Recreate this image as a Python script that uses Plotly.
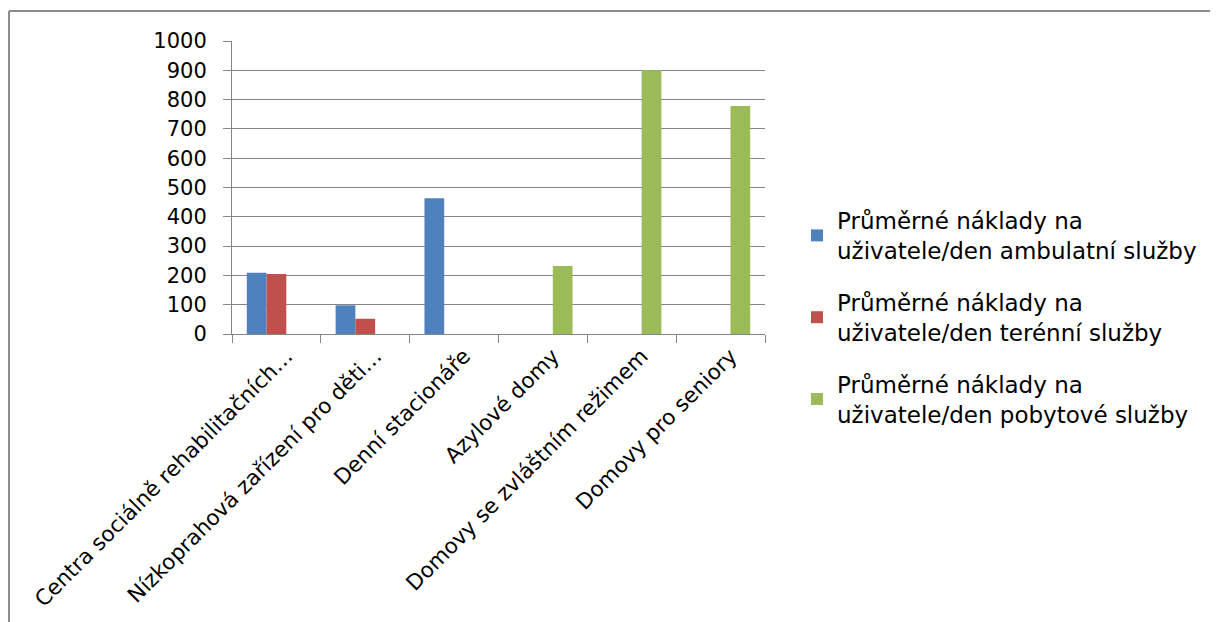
import plotly.graph_objects as go

categories = [
    "Centra sociálně rehabilitačních…",
    "Nízkoprahová zařízení pro děti…",
    "Denní stacionáře",
    "Azylové domy",
    "Domovy se zvláštním režimem",
    "Domovy pro seniory",
]
series_names = [
    "Průměrné náklady na<br>uživatele/den ambulatní služby",
    "Průměrné náklady na<br>uživatele/den terénní služby",
    "Průměrné náklady na<br>uživatele/den pobytové služby",
]
ambulatni = [209, 98, 463, None, None, None]
terenni = [205, 52, None, None, None, None]
pobytove = [None, None, None, 232, 900, 778]
colors = ["#4F81BD", "#C0504D", "#9BBB59"]
y_ticks = list(range(0, 1001, 100))

OFF = 8  # page body margin
W, H = 1218 - OFF, 622 - OFF
# plot area in page pixels
L, R, T, B = 232, 765, 41, 334

def px_x(x):
    return (x - L) / (R - L)

def px_y(y):
    return (B - y) / (B - T)

FONT = "DejaVu Sans"
FS = 21
LFS = 23
XFS = 21.5

fig = go.Figure()
for i, (name, vals) in enumerate(zip(series_names, [ambulatni, terenni, pobytove])):
    fig.add_trace(go.Bar(
        x=categories, y=vals, name=name,
        marker=dict(color=colors[i], line=dict(width=0)),
        legendgroup=f"g{i}",
    ))

fig.update_layout(
    width=W, height=H,
    margin=dict(l=L - OFF, r=W - (R - OFF), t=T - OFF, b=H - (B - OFF), pad=0,
                autoexpand=False),
    paper_bgcolor="white", plot_bgcolor="white",
    barmode="group", bargap=0.333, bargroupgap=0,
    font=dict(family=FONT, size=FS, color="#000000"),
    showlegend=True,
    legend=dict(
        x=px_x(797), y=px_y(199), xanchor="left", yanchor="top",
        font=dict(family=FONT, size=LFS, color="#000000"),
        tracegroupgap=19, itemsizing="constant",
        bgcolor="rgba(0,0,0,0)",
    ),
    xaxis=dict(
        type="category", tickangle=-45, tickson="boundaries",
        ticks="outside", ticklen=8, tickcolor="#868686",
        showline=True, linecolor="#868686", linewidth=1,
        showgrid=False, tickfont=dict(family=FONT, size=XFS),
        ticklabelstandoff=0, ticklabelshift=10, automargin=False,
    ),
    yaxis=dict(
        range=[0, 1000], tickvals=y_ticks, ticks="outside", ticklen=8,
        tickcolor="#868686", showline=True, linecolor="#868686", linewidth=1,
        showgrid=True, gridcolor="#868686", gridwidth=1,
        zeroline=False, tickfont=dict(family=FONT, size=FS),
        ticklabelstandoff=12, automargin=False,
    ),
    shapes=[
        dict(type="line", xref="paper", yref="paper",
             x0=px_x(9), x1=px_x(1240), y0=px_y(11), y1=px_y(11),
             line=dict(color="#8C8C8C", width=2)),
        dict(type="line", xref="paper", yref="paper",
             x0=px_x(9), x1=px_x(9), y0=px_y(11), y1=px_y(660),
             line=dict(color="#8C8C8C", width=2)),
    ],
)

fig.write_html("out.html")
